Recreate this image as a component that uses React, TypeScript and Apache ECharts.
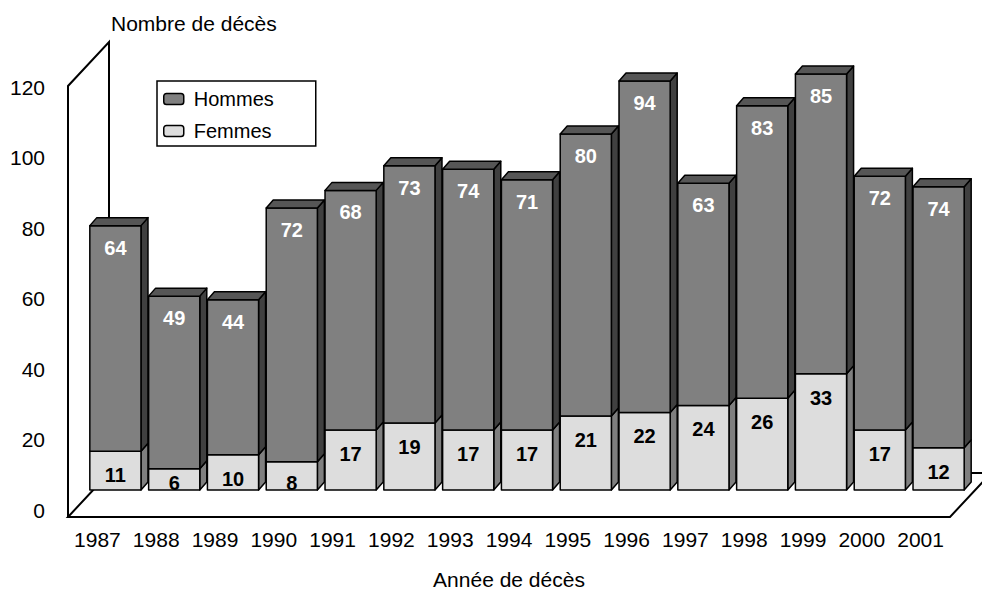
import React, { useEffect, useRef } from "react";
import * as echarts from "echarts";

const years = ["1987", "1988", "1989", "1990", "1991", "1992", "1993", "1994", "1995", "1996", "1997", "1998", "1999", "2000", "2001"];
const hommes = [64, 49, 44, 72, 68, 73, 74, 71, 80, 94, 63, 83, 85, 72, 74];
const femmes = [11, 6, 10, 8, 17, 19, 17, 17, 21, 22, 24, 26, 33, 17, 12];

const FONT = "'Liberation Sans', Arial, Helvetica, sans-serif";
const DX = 18; // bar plane offset from front plane
const DY = -20;
const SX = 7; // bar depth
const SY = -8;

function makeRender(colors: { front: string; side: string; top: string; label: string }, withTop: boolean) {
  return (params: any, api: any) => {
    const i = api.value(0);
    const v = api.value(1);
    const base = api.value(2);
    const p0 = api.coord([i, base]);
    const p1 = api.coord([i, base + v]);
    const bw = api.size([1, 0])[0] * 0.87;
    const cx = p0[0] + DX;
    const x0 = cx - bw / 2;
    const x1 = cx + bw / 2;
    const yb = p0[1] + DY;
    const yt = p1[1] + DY;
    const stroke = { stroke: "#000", lineWidth: 1.5, lineJoin: "round" };
    const children: any[] = [
      {
        type: "polygon",
        shape: { points: [[x1, yt], [x1 + SX, yt + SY], [x1 + SX, yb + SY], [x1, yb]] },
        style: { fill: colors.side, ...stroke },
      },
      {
        type: "rect",
        shape: { x: x0, y: yt, width: bw, height: yb - yt },
        style: { fill: colors.front, ...stroke },
      },
    ];
    if (withTop) {
      children.push({
        type: "polygon",
        shape: { points: [[x0, yt], [x0 + SX, yt + SY], [x1 + SX, yt + SY], [x1, yt]] },
        style: { fill: colors.top, ...stroke },
      });
    }
    const ly = withTop ? yt + 22 : Math.min(yt + 24, yb - 7);
    children.push({
      type: "text",
      x: cx,
      y: ly,
      z2: 10,
      style: {
        text: String(v),
        fill: colors.label,
        font: `bold 20px ${FONT}`,
        align: "center",
        verticalAlign: "middle",
      },
    });
    return { type: "group", children };
  };
}

export default function App() {
  const ref = useRef<HTMLDivElement>(null);
  useEffect(() => {
    if (!ref.current) return;
    const chart = echarts.init(ref.current, null, { renderer: "svg" });
    const gridLeft = 68;
    const gridTop = 87;
    const gridBottomY = 517;
    const gridRightX = 950;
    const depthX = 41;
    const depthY = -44;
    chart.setOption({
      animation: false,
      backgroundColor: "#fff",
      textStyle: { fontFamily: FONT },
      grid: {
        left: gridLeft,
        top: gridTop,
        width: gridRightX - gridLeft,
        height: gridBottomY - gridTop,
        containLabel: false,
      },
      legend: {
        orient: "vertical",
        left: 157,
        top: 81,
        padding: [8, 42, 5, 6],
        itemGap: 12,
        itemWidth: 20,
        itemHeight: 11,
        borderColor: "#000",
        borderWidth: 1.5,
        backgroundColor: "#fff",
        selectedMode: false,
        textStyle: { fontSize: 20, color: "#000", fontFamily: FONT, padding: [0, 0, 0, 5] },
        data: [
          { name: "Hommes", icon: "roundRect", itemStyle: { color: "#808080", borderColor: "#000", borderWidth: 1.5 } },
          { name: "Femmes", icon: "roundRect", itemStyle: { color: "#dddddd", borderColor: "#000", borderWidth: 1.5 } },
        ],
      },
      xAxis: {
        type: "category",
        data: years,
        axisLine: { show: false },
        axisTick: { show: false },
        axisLabel: { fontSize: 21, color: "#000", margin: 19, fontFamily: FONT, interval: 0 },
        name: "Année de décès",
        nameLocation: "middle",
        nameGap: 59,
        nameTextStyle: { fontSize: 21, color: "#000", fontFamily: FONT },
      },
      yAxis: {
        type: "value",
        min: 0,
        max: 120,
        interval: 20,
        axisLine: { show: false },
        axisTick: { show: false },
        splitLine: { show: false },
        axisLabel: { fontSize: 21, color: "#000", margin: 23, fontFamily: FONT },
      },
      graphic: [
        {
          type: "polygon",
          z: 0,
          shape: {
            points: [
              [gridLeft, gridBottomY],
              [gridRightX, gridBottomY],
              [gridRightX + depthX, gridBottomY + depthY],
              [gridLeft + depthX, gridBottomY + depthY],
            ],
          },
          style: { fill: "#fff", stroke: "#000", lineWidth: 2 },
        },
        {
          type: "polyline",
          z: 0,
          shape: {
            points: [
              [gridLeft, gridBottomY],
              [gridLeft, gridTop - 1],
              [gridLeft + depthX, gridTop - 1 + depthY],
              [gridLeft + depthX, gridBottomY + depthY],
            ],
          },
          style: { fill: "none", stroke: "#000", lineWidth: 2 },
        },
        {
          type: "text",
          left: 111,
          top: 13,
          style: { text: "Nombre de décès", font: `21px ${FONT}`, fill: "#000" },
        },
      ],
      series: [
        {
          name: "Femmes",
          type: "custom",
          z: 10,
          clip: false,
          itemStyle: { color: "#dddddd" },
          renderItem: makeRender({ front: "#dddddd", side: "#7f7f7f", top: "#bfbfbf", label: "#000" }, false),
          encode: { x: 0, y: 1 },
          data: femmes.map((v, i) => [i, v, 0]),
        },
        {
          name: "Hommes",
          type: "custom",
          z: 11,
          clip: false,
          itemStyle: { color: "#808080" },
          renderItem: makeRender({ front: "#808080", side: "#404040", top: "#565656", label: "#fff" }, true),
          encode: { x: 0, y: 1 },
          data: hommes.map((v, i) => [i, v, femmes[i]]),
        },
      ],
    });
    return () => chart.dispose();
  }, []);
  return <div ref={ref} style={{ position: "absolute", left: 0, top: 0, width: 982, height: 595 }} />;
}
